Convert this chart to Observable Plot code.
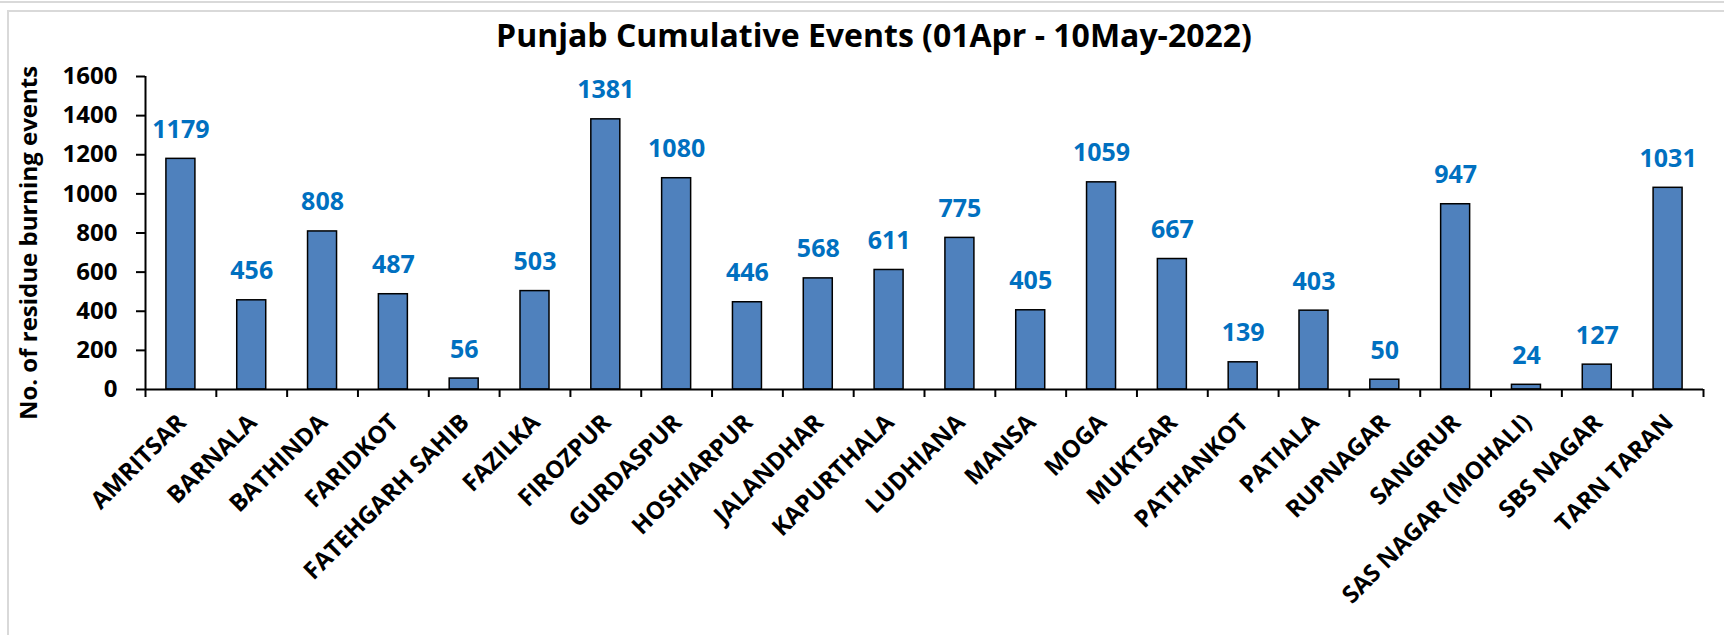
<!DOCTYPE html>
<html><head><meta charset="utf-8">
<script src="https://cdn.jsdelivr.net/npm/d3@7"></script>
<script src="https://cdn.jsdelivr.net/npm/@observablehq/plot@0.6"></script>
<style>
body{margin:0;background:#fff;}
#wrap{position:relative;width:1724px;height:635px;overflow:hidden;font-family:"Open Sans",sans-serif;background:#fff;}
#topline{position:absolute;left:0;top:1px;width:1724px;height:2px;background:#d9d9d9;}
#frame{position:absolute;left:7px;top:10px;width:1740px;height:640px;border-left:2px solid #d9d9d9;border-top:2px solid #d9d9d9;pointer-events:none;}
#title{position:relative;height:62px;box-sizing:border-box;padding-top:15px;padding-left:24px;line-height:40px;text-align:center;font-size:32px;font-weight:bold;color:#000;white-space:nowrap;}
#chart svg{display:block;}
</style></head>
<body>
<div id="wrap">
<div id="topline"></div>
<div id="frame"></div>
<div id="title">Punjab Cumulative Events (01Apr - 10May-2022)</div>
<div id="chart"></div>
</div>
<script>
const districts = ["AMRITSAR","BARNALA","BATHINDA","FARIDKOT","FATEHGARH SAHIB","FAZILKA","FIROZPUR","GURDASPUR","HOSHIARPUR","JALANDHAR","KAPURTHALA","LUDHIANA","MANSA","MOGA","MUKTSAR","PATHANKOT","PATIALA","RUPNAGAR","SANGRUR","SAS NAGAR (MOHALI)","SBS NAGAR","TARN TARAN"];
const events = [1179,456,808,487,56,503,1381,1080,446,568,611,775,405,1059,667,139,403,50,947,24,127,1031];
const yTicks = [0,200,400,600,800,1000,1200,1400,1600];
const yLabel = "No. of residue burning events";

const data = districts.map((d, i) => ({district: d, events: events[i]}));
const W = 1724, H = 573, mL = 145, mR = 21, mT = 14, mB = 246;
const bw = (W - mL - mR) / districts.length;
const barW = 29;
const inset = (bw - barW) / 2;

const chart = Plot.plot({
  width: W, height: H,
  marginTop: mT, marginBottom: mB, marginLeft: mL, marginRight: mR,
  style: {fontFamily: "'Open Sans', sans-serif", fontWeight: "bold", color: "#000", background: "transparent", overflow: "visible"},
  x: {type: "band", domain: districts, padding: 0, round: false, label: null},
  y: {domain: [0, 1600], label: null},
  marks: [
    Plot.barY(data, {x: "district", y: "events", fill: "#4F81BD", stroke: "#000", strokeWidth: 1.5, insetLeft: inset, insetRight: inset}),
    Plot.text(data, {x: "district", y: "events", text: d => String(d.events), dy: -29, fill: "#0070C0", fontSize: 25, fontWeight: "bold"}),
    Plot.ruleY([0], {stroke: "#000", strokeWidth: 2}),
    Plot.ruleX([districts[0]], {dx: -bw / 2, stroke: "#000", strokeWidth: 2}),
    Plot.axisY({ticks: yTicks, tickFormat: d => String(d), tickSize: 9, tickPadding: 19, fontSize: 24, fontWeight: "bold", strokeWidth: 2, label: null}),
    Plot.axisX({tickSize: 8, text: null, dx: -bw / 2, strokeWidth: 2, label: null}),
    Plot.axisX([districts[districts.length - 1]], {tickSize: 8, text: null, dx: bw / 2, strokeWidth: 2, label: null}),
    Plot.axisX({tickSize: 0, tickPadding: 6, tickRotate: -45, fontSize: 24, fontWeight: "bold", label: null, dx: 1, dy: 23}),
    Plot.text([yLabel], {frameAnchor: "left", text: d => d, rotate: -90, textAnchor: "middle", lineAnchor: "middle", dx: -116, dy: 10, fontSize: 24, fontWeight: "bold", fill: "#000"})
  ]
});
document.getElementById("chart").appendChild(chart);
</script>
</body></html>
